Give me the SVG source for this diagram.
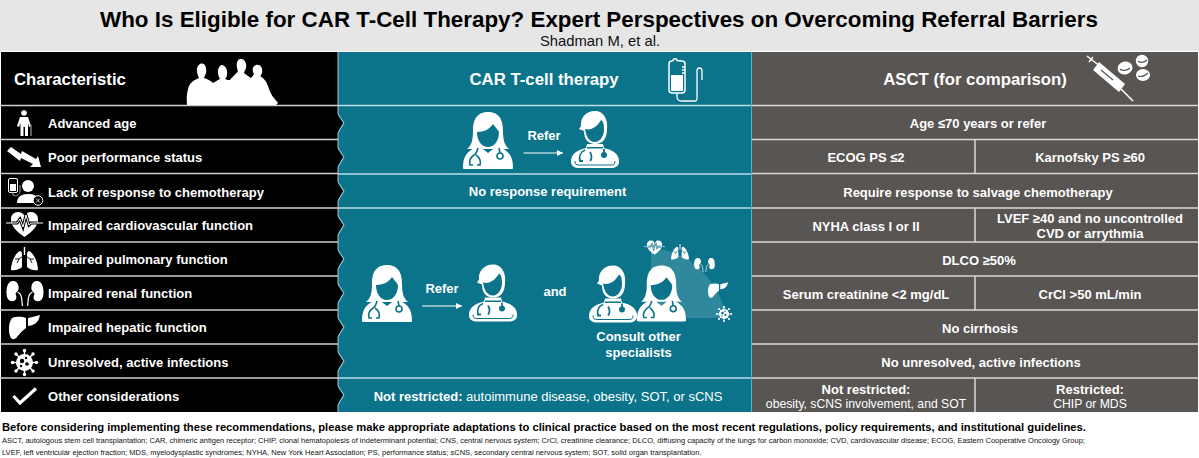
<svg xmlns="http://www.w3.org/2000/svg" width="1199" height="458" viewBox="0 0 1199 458">
<style>
text{font-family:"Liberation Sans",Arial,sans-serif;fill:#fff}
.b{font-weight:700}
.l{font-size:13px;font-weight:700;letter-spacing:.02px}
.c{font-size:13px;font-weight:700;text-anchor:middle}
.h{font-size:16.800px;font-weight:700;text-anchor:middle}
.n{font-size:12.200px;text-anchor:middle}
.m{font-size:13px;font-weight:700;text-anchor:middle}
.d{fill:#111;font-size:7.520px}
.ic{fill:#fff}
.tl{fill:#0b748a}
.bk{fill:#000}
.gr{fill:#595553}
.sepk{stroke:#d0d0d0;stroke-width:1.5}
.sept{stroke:#b9dde5;stroke-width:1.5}
.sepg{stroke:#dad8d6;stroke-width:1.5}
.st{fill:none;stroke:#0b748a}
.onteal{color:#0b748a}
.onblack{color:#000}
</style>
<defs>
<marker id="arr" markerWidth="6" markerHeight="6" refX="5" refY="3" orient="auto"><path d="M0 .5L5 3L0 5.500Z" fill="#fff"/></marker>
<symbol id="fdoc" viewBox="0 0 50 57" overflow="visible">
<path class="ic" d="M25 0C13 0 10 9 10 19C10 29 8 34 4 37L46 37C42 34 40 29 40 19C40 9 37 0 25 0Z"/>
<path class="ic" d="M0 56C0 45 3 39 16 34L25 41L34 34C47 39 50 45 50 56C50 57 49 57 48 57L2 57C1 57 0 57 0 56Z"/>
<path class="tl" d="M14 20C21 20 27 17 30 12C33 16 35 18 36 20C36 29 31 35 25 35C19 35 14 29 14 20Z"/>
<path class="st" stroke-width="1.600" d="M15 36C14 40 13 42 11 43C7 46 6 50 7 53L10 53M13 43C17 46 18 50 17 53L14 53M36 36L37 41"/>
<circle cx="37" cy="44" r="3" fill="none" stroke="#0b748a" stroke-width="1.600"/>
</symbol>
<symbol id="mdoc" viewBox="0 0 48 57" overflow="visible">
<path class="ic" d="M26 0C15-1 9 7 10 15L8 18L13 20C13 28 17 33 24 33C32 33 36 27 36 18C37 12 35 2 26 0Z"/>
<path class="tl" d="M14 18C20 20 27 15 30 9C33 11 33 15 33 20C32 27 28 31 24 31C18 31 15 25 14 18Z"/>
<path class="ic" d="M16 33L32 33L33 37C43 39 48 44 48 50L48 51C48 55 44 57 40 57L8 57C4 57 0 55 0 51L0 50C0 44 5 39 15 37Z"/>
<rect x="16" y="36" width="16" height="1.500" class="tl"/>
<path class="st" stroke-width="1" d="M4 50C4 53 5 54 8 54L40 54C43 54 44 53 44 50"/>
<path class="st" stroke-width="1.800" d="M14 39C9 41 8 46 9 50L12 50M19 41C21 44 21 48 19 50"/>
<path class="st" stroke-width="1.800" d="M33 38V42"/>
<circle cx="33" cy="44" r="3" class="tl"/>
</symbol>
<symbol id="heart" viewBox="0 0 37 25" overflow="visible">
<path class="ic" d="M18.500 25C10 19 5 14 5 7C5 3 8 0 12 0C15 0 17 1 18.500 4C20 1 22 0 25 0C29 0 32 3 32 7C32 14 27 19 18.500 25Z"/>
<path d="M6 11L11 11L14 7L17 15L20 3L23 13L25 11L31 11" fill="none" stroke="currentColor" stroke-width="3"/>
<path d="M0 11L11 11L14 7L17 15L20 3L23 13L25 11L37 11" fill="none" stroke="#fff" stroke-width="1"/>
</symbol>
<symbol id="lungs" viewBox="0 0 27 24" overflow="visible">
<path class="ic" d="M9 4C4 6 0 16 0 23C4 24 9 22 11 20L11 7C11 5 10 4 9 4ZM18 4C23 6 27 16 27 23C23 24 18 22 16 20L16 7C16 5 17 4 18 4Z"/>
<path d="M13.500 8L8 12L6 16M8 12L4 12M13.500 8L19 12L21 16M19 12L23 12" fill="none" stroke="currentColor" stroke-width=".9"/>
<path d="M13.500 0L13.500 8" fill="none" stroke="#fff" stroke-width="1.400"/>
</symbol>
<symbol id="kidneys" viewBox="0 0 37 25" overflow="visible">
<path class="ic" d="M6 0C1 1 0 6 0 12C0 18 3 21 7 20C11 19 10 15 9 13C10 10 13 10 12 5C11 1 9 0 6 0ZM31 0C36 1 37 6 37 12C37 18 34 21 30 20C26 19 27 15 28 13C27 10 24 10 25 5C26 1 28 0 31 0Z"/>
<path d="M11 11C16 13 15 19 16 25M26 11C21 13 22 19 21 25" fill="none" stroke="#fff" stroke-width="1.200"/>
</symbol>
<symbol id="liver" viewBox="0 0 31 24" overflow="visible">
<path class="ic" d="M3 3C9 1 14 2 17 3L17 13C14 15 11 18 8 22C6 25 2 25 1 21C-1 14 0 7 3 3ZM19 3C23 2 28 1 31 0C30 5 28 10 19 11Z"/>
</symbol>
<symbol id="virus" viewBox="0 0 27 27" overflow="visible">
<circle class="ic" cx="13.500" cy="13.500" r="8.500"/>
<path d="M13.500 1V26M1 13.500H26M4.700 4.700L22.300 22.300M22.300 4.700L4.700 22.300" stroke="#fff" stroke-width="1.500" fill="none"/>
<g class="ic"><circle cx="13.500" cy="1.500" r="1.700"/><circle cx="13.500" cy="25.500" r="1.700"/><circle cx="1.500" cy="13.500" r="1.700"/><circle cx="25.500" cy="13.500" r="1.700"/><circle cx="5" cy="5" r="1.700"/><circle cx="22" cy="22" r="1.700"/><circle cx="22" cy="5" r="1.700"/><circle cx="5" cy="22" r="1.700"/></g>
<g fill="currentColor"><circle cx="11" cy="12" r="2.200"/><circle cx="16" cy="15" r="1.800"/><circle cx="15" cy="9" r="1.200"/><circle cx="10" cy="17" r="1.200"/></g>
</symbol>
</defs>

<rect width="1199" height="458" fill="#fff"/>
<g id="title">
<rect x="0" y="0" width="1199" height="51" fill="#e6e6e6"/>
<text x="599" y="26.500" text-anchor="middle" class="b" style="font-size:22.400px;fill:#000">Who Is Eligible for CAR T-Cell Therapy? Expert Perspectives on Overcoming Referral Barriers</text>
<text x="600" y="45.500" text-anchor="middle" style="font-size:14.800px;fill:#111">Shadman M, et al.</text>
</g>

<g id="panel-backgrounds">
<rect x="1" y="52" width="337" height="360" class="bk"/>
<rect x="338" y="52" width="413" height="360" class="tl"/>
<rect x="751" y="52" width="1.500" height="360" fill="#4fb3d0"/>
<rect x="752" y="52" width="446" height="360" class="gr"/>
<path class="bk" d="M337 106L337 114L343 123L337 133L337 140L337 148L343 157L337 167L337 174L337 182L343 191L337 201L337 208L337 216L343 225L337 235L337 242L337 250L343 259L337 269L337 276L337 284L343 293L337 303L337 310L337 318L343 327L337 337L337 344L337 352L343 361L337 371L337 378L337 386L343 395L337 405L337 412L330 412L330 106Z"/>
<path d="M338 52L338 114L344 123L338 133L338 148L344 157L338 167L338 182L344 191L338 201L338 216L344 225L338 235L338 250L344 259L338 269L338 284L344 293L338 303L338 318L344 327L338 337L338 352L344 361L338 371L338 386L344 395L338 405L338 412" fill="none" stroke="#d5e6ea" stroke-width=".8"/>
</g>

<g id="separators">
<path class="sepk" d="M0 105.500H338M0 139.500H338M0 173.500H338M0 208H338M0 242H338M0 276H338M0 310H338M0 344H338M0 378H338"/>
<path class="sept" d="M338 105.500H751M338 174H751M338 208H751M338 378H751"/>
<path class="sepg" d="M752 105.500H1198M752 139.500H1198M752 173.500H1198M752 208H1198M752 242H1198M752 276H1198M752 310H1198M752 344H1198M752 378H1198M975 140V173M975 208V242M975 276V310M975 378V412"/>
</g>

<g id="head-characteristic">
<text x="14" y="85" class="b" style="font-size:16.800px">Characteristic</text>
<path class="ic" d="M187 105C186 95 188 86 191 83C194 80 197 79 199 78C197 74 195 67 200 64C205 62 207 68 206 73C205 76 204 77 204 78C208 79 211 81 213 83C216 81 218 80 220 79C218 76 216 69 221 65C225 64 228 70 227 74C227 77 226 78 225 79C227 80 229 80 230 80C233 76 237 73 238 71C236 67 236 60 240 59C245 58 247 64 246 68C245 71 244 72 244 73C247 75 249 77 251 78C253 76 254 74 254 74C252 71 252 66 256 65C261 64 263 69 262 73C261 75 261 76 260 76C264 78 266 81 268 86C270 92 272 96 274 98L278 103L276 105Z"/>
</g>
<g id="head-car">
<text x="544" y="85" class="h">CAR T-cell therapy</text>
<path d="M673 60.500C673 58 677 58 677 60.500L682 61C684 61 685 62 685 64L685 90C685 92 684 93 682 93L672 93C670 93 669 92 669 90L669 64C669 62 670 61 672 61Z" fill="none" stroke="#fff" stroke-width="1.500"/>
<rect x="671" y="75" width="12" height="16" class="ic"/>
<path d="M682 67H685M682 70H685M682 73H685M677 93V97C677 100 680 101 682 101L695 101C697 101 697 100 697 98L697 71C697 67 702 67 702 71L702 80" fill="none" stroke="#fff" stroke-width="1.300"/>
</g>
<g id="head-asct">
<text x="975" y="85" class="h">ASCT (for comparison)</text>
<path d="M1087 56L1101 67M1093 57L1089 62M1120 88L1133 101" stroke="#fff" stroke-width="1.500" fill="none"/>
<path class="ic" d="M1099 62L1125 84L1119 92L1093 70Z"/>
<path d="M1101 70L1113 80" stroke="#595553" stroke-width="1.200"/>
<ellipse cx="1125" cy="68" rx="7.500" ry="6.500" class="ic" transform="rotate(-15 1125 68)"/>
<circle cx="1142" cy="61" r="6.200" class="ic"/>
<ellipse cx="1143" cy="75" rx="7" ry="6" class="ic"/>
<path fill="none" stroke="#595553" stroke-width="1.100" d="M1120 69C1122 71 1127 71 1130 68M1138 61C1140 63 1144 63 1147 60M1138 76C1141 77 1145 76 1148 73"/>
</g>

<g id="row-age">
<text x="48" y="128.300" class="l">Advanced age</text>
<circle cx="24" cy="113" r="2.800" class="ic"/>
<path class="ic" d="M20 117L28 117L31 126L29 127L28 123L28 136L25 136L25 127L23.500 127L23.500 136L20.500 136L20.500 123L19 127L17 126Z"/>
<path d="M31 125V136" stroke="#999" stroke-width="1.200"/>
<text x="978" y="128" class="c">Age ≤70 years or refer</text>
</g>
<g id="row-performance">
<text x="48" y="162.300" class="l">Poor performance status</text>
<path class="ic" d="M11 147L21 154L22 151L36 159L38 156L41 167L30 167L33 164L21 158L20 161L7 151Z"/>
<text x="866" y="162" class="c">ECOG PS ≤2</text>
<text x="1090" y="162" class="c">Karnofsky PS ≥60</text>
</g>
<g id="row-response">
<text x="48" y="196.500" class="l">Lack of response to chemotherapy</text>
<rect x="8.500" y="178.500" width="9" height="14" rx="1.500" fill="none" stroke="#fff" stroke-width="1"/>
<rect x="10" y="184" width="6" height="7" class="ic"/>
<path d="M13 192V195C16 197 20 195 20 191V185" fill="none" stroke="#aaa" stroke-width="1"/>
<circle cx="28" cy="186" r="6" class="ic"/>
<path class="ic" d="M17 203C17 197 21 194 28 194C34 194 37 196 38 199L33 203Z"/>
<circle cx="38" cy="200.500" r="4.800" fill="#000" stroke="#fff"/>
<path d="M36 198.500L40 202.500M40 198.500L36 202.500" stroke="#fff" stroke-width=".8"/>
<text x="547.500" y="196" class="c">No response requirement</text>
<text x="978" y="196.500" class="c">Require response to salvage chemotherapy</text>
</g>
<g id="row-cardio">
<text x="48" y="230" class="l">Impaired cardiovascular function</text>
<use href="#heart" class="onblack" x="6" y="212" width="37" height="25"/>
<text x="866" y="230.500" class="c">NYHA class I or II</text>
<text x="1090" y="222.500" class="c">LVEF ≥40 and no uncontrolled</text>
<text x="1090" y="238" class="c">CVD or arrythmia</text>
</g>
<g id="row-pulmonary">
<text x="48" y="264.300" class="l">Impaired pulmonary function</text>
<use href="#lungs" class="onblack" x="11" y="247" width="27" height="24"/>
<text x="979" y="265" class="c">DLCO ≥50%</text>
</g>
<g id="row-renal">
<text x="48" y="298.300" class="l">Impaired renal function</text>
<use href="#kidneys" x="6.500" y="281" width="37" height="25"/>
<text x="866" y="299" class="c">Serum creatinine &lt;2 mg/dL</text>
<text x="1090" y="299" class="c">CrCl &gt;50 mL/min</text>
</g>
<g id="row-hepatic">
<text x="48" y="332.300" class="l">Impaired hepatic function</text>
<use href="#liver" x="9" y="315" width="31" height="24"/>
<text x="980" y="332.700" class="c">No cirrhosis</text>
</g>
<g id="row-infections">
<text x="48" y="366.700" class="l">Unresolved, active infections</text>
<use href="#virus" class="onblack" x="11" y="349" width="27" height="27"/>
<text x="981" y="366.700" class="c">No unresolved, active infections</text>
</g>
<g id="row-other">
<text x="48" y="400.700" class="l">Other considerations</text>
<path d="M13.500 396L20 403L36 388.500" fill="none" stroke="#fff" stroke-width="3.200"/>
<text x="548" y="401" style="font-size:13px;text-anchor:middle"><tspan class="b">Not restricted:</tspan> autoimmune disease, obesity, SOT, or sCNS</text>
<text x="866" y="394" class="c">Not restricted:</text>
<text x="866" y="408" class="n">obesity, sCNS involvement, and SOT</text>
<text x="1090" y="394" class="c">Restricted:</text>
<text x="1090" y="408" class="n">CHIP or MDS</text>
</g>

<g id="refer-top">
<use href="#fdoc" x="463" y="112" width="50" height="57"/>
<use href="#mdoc" x="571" y="111" width="48" height="57"/>
<text x="544" y="140" class="m">Refer</text>
</g>
<g id="refer-main">
<use href="#fdoc" x="362" y="265" width="50" height="57"/>
<use href="#mdoc" x="469" y="264" width="48" height="58"/>
<text x="442" y="293" class="m">Refer</text>
<text x="555" y="296" class="m">and</text>
</g>
<g id="consult">
<path d="M651 248C690 250 718 280 727 318L651 318Z" fill="#fff" fill-opacity=".15"/>
<use href="#mdoc" x="589" y="265" width="48" height="58"/>
<use href="#fdoc" x="637" y="265" width="49" height="57"/>
<use href="#heart" class="onteal" x="644" y="240" width="21" height="15"/>
<use href="#lungs" class="onteal" x="671" y="244" width="18" height="16"/>
<use href="#kidneys" x="694" y="258" width="21" height="14"/>
<use href="#liver" x="708" y="282" width="20" height="16"/>
<use href="#virus" class="onteal" x="716" y="306" width="16" height="16"/>
<text x="638.500" y="341" class="m">Consult other</text>
<text x="638.500" y="357" class="m">specialists</text>
</g>

<g id="connectors">
<path d="M523.500 153H563" stroke="#fff" stroke-width="1.200" fill="none" marker-end="url(#arr)"/>
<path d="M422 306H462" stroke="#fff" stroke-width="1.200" fill="none" marker-end="url(#arr)"/>
</g>

<g id="footer">
<text x="2" y="431" class="b" style="font-size:11.210px;fill:#000">Before considering implementing these recommendations, please make appropriate adaptations to clinical practice based on the most recent regulations, policy requirements, and institutional guidelines.</text>
<text x="2" y="443" class="d">ASCT, autologous stem cell transplantation; CAR, chimeric antigen receptor; CHIP, clonal hematopoiesis of indeterminant potential; CNS, central nervous system; CrCl, creatinine clearance; DLCO, diffusing capacity of the lungs for carbon monoxide; CVD, cardiovascular disease; ECOG, Eastern Cooperative Oncology Group;</text>
<text x="2" y="455" class="d">LVEF, left ventricular ejection fraction; MDS, myelodysplastic syndromes; NYHA, New York Heart Association; PS, performance status; sCNS, secondary central nervous system; SOT, solid organ transplantation.</text>
</g>
</svg>
